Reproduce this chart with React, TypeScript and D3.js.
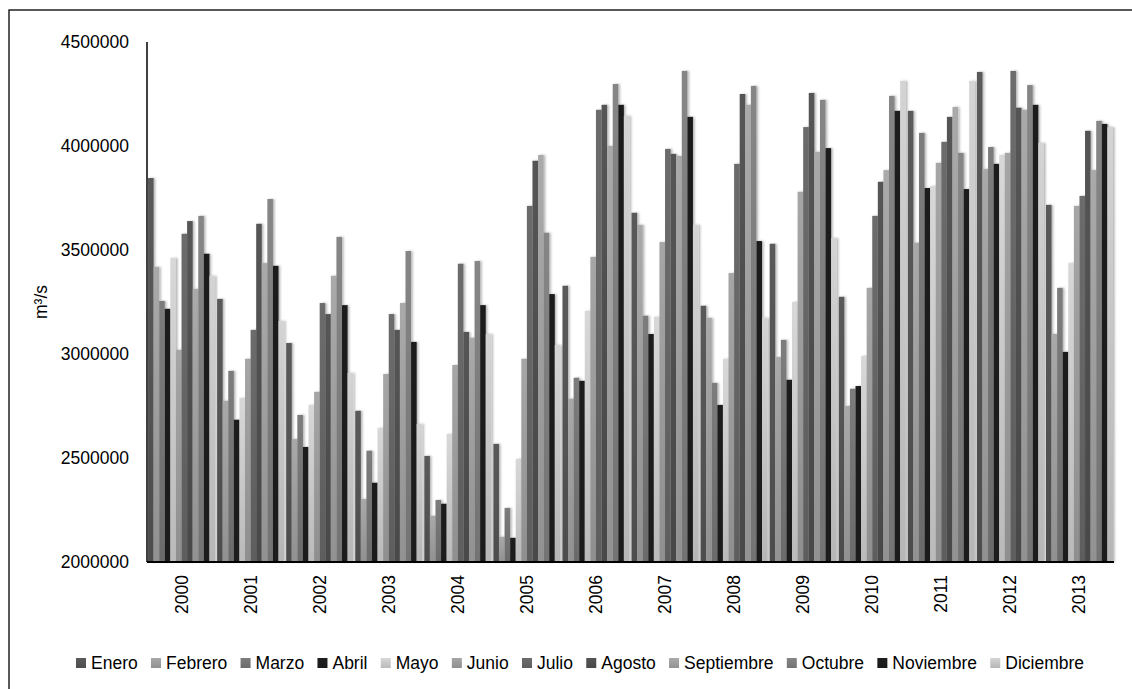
import React from "react";
import * as d3 from "d3";

const years = ["2000","2001","2002","2003","2004","2005","2006","2007","2008","2009","2010","2011","2012","2013"];
const months = ["Enero","Febrero","Marzo","Abril","Mayo","Junio","Julio","Agosto","Septiembre","Octubre","Noviembre","Diciembre"];
const colors = ["#5a5a5a","#a9a9a9","#7c7c7c","#1e1e1e","#d8d8d8","#a6a6a6","#6c6c6c","#555555","#aaaaaa","#868686","#1e1e1e","#d4d4d4"];

const enero = [3846000,3265000,3053000,2727000,2510000,2568000,3328000,3679000,3232000,3530000,3275000,4169000,4356000,3717000];
const febrero = [3419000,2775000,2591000,2303000,2222000,2121000,2785000,3621000,3174000,2985000,2750000,3535000,3889000,3096000];
const marzo = [3255000,2919000,2707000,2535000,2298000,2260000,2886000,3184000,2861000,3068000,2833000,4063000,3995000,3318000];
const abril = [3217000,2684000,2553000,2381000,2280000,2116000,2871000,3096000,2755000,2876000,2846000,3798000,3914000,3010000];
const mayo = [3462000,2788000,2755000,2644000,2616000,2495000,3207000,3179000,2977000,3250000,2990000,3808000,3957000,3437000];
const junio = [3020000,2977000,2818000,2904000,2947000,2977000,3467000,3538000,3389000,3780000,3318000,3919000,3967000,3712000];
const julio = [3578000,3116000,3245000,3192000,3434000,3712000,4174000,3986000,3914000,4091000,3664000,4020000,4361000,3760000];
const agosto = [3639000,3626000,3192000,3116000,3106000,3929000,4198000,3962000,4250000,4255000,3828000,4140000,4184000,4073000];
const septiembre = [3313000,3437000,3376000,3245000,3078000,3957000,4000000,3952000,4198000,3972000,3884000,4188000,4174000,3884000];
const octubre = [3664000,3745000,3563000,3495000,3447000,3583000,4298000,4361000,4289000,4222000,4241000,3967000,4293000,4121000];
const noviembre = [3482000,3424000,3235000,3058000,3235000,3288000,4198000,4140000,3543000,3990000,4169000,3793000,4198000,4106000];
const diciembre = [3376000,3159000,2909000,2664000,3096000,3043000,4145000,3621000,3174000,3558000,4313000,4313000,4015000,4091000];

const series = [enero,febrero,marzo,abril,mayo,junio,julio,agosto,septiembre,octubre,noviembre,diciembre];
const yTicks = [2000000,2500000,3000000,3500000,4000000,4500000];

const W = 1132, H = 689;
const left = 147, right = 1114, top = 42, bottom = 562;
const FONT = "'Liberation Sans', Arial, sans-serif";
const FS = 17.5;

const x0 = d3.scaleBand<string>().domain(years).range([left, right]).paddingInner(0.03).paddingOuter(0.015);
const x1 = d3.scaleBand<string>().domain(months).range([0, x0.bandwidth()]).padding(0);
const y = d3.scaleLinear().domain([2000000, 4500000]).range([bottom, top]);

function darker(c: string, k: number) {
  const col = d3.rgb(c);
  return d3.rgb(col.r * k, col.g * k, col.b * k).formatHex();
}

const charW: Record<string, number> = {E:.667,n:.556,e:.556,r:.333,o:.556,F:.611,b:.556,M:.833,a:.556,z:.5,A:.667,i:.222,l:.222,y:.5,J:.5,u:.556,g:.556,s:.5,t:.278,S:.667,p:.556,m:.833,O:.778,c:.5,N:.722,v:.5,D:.722};
const textW = (s: string) => s.split("").reduce((a, ch) => a + (charW[ch] ?? 0.556), 0) * FS;
const SW = 10, SG = 5, IG = 13.3;
const itemW = months.map(m => SW + SG + textW(m));
const totalW = d3.sum(itemW) + IG * (months.length - 1);
const legendStart = 580 - totalW / 2;
const legendX: number[] = [];
{
  let acc = legendStart;
  itemW.forEach(w => { legendX.push(acc); acc += w + IG; });
}
const legendY = 663;

export default function App() {
  return (
    <svg width={W} height={H} style={{ position: "absolute", left: 0, top: 0, background: "#fff" }} fontFamily={FONT}>
      <defs>
        {colors.map((c, i) => (
          <linearGradient key={i} id={`g${i}`} x1="0" y1="0" x2="0" y2="1">
            <stop offset="0" stopColor={c} />
            <stop offset="1" stopColor={darker(c, 0.86)} />
          </linearGradient>
        ))}
        <filter id="sh" x="-50%" y="-5%" width="220%" height="110%">
          <feDropShadow dx="1.6" dy="0" stdDeviation="1.2" floodColor="#000" floodOpacity="0.3" />
        </filter>
      </defs>
      <rect x={9} y={10} width={W + 20} height={H + 20} fill="#fff" stroke="#000" strokeWidth={1.3} />

      <g>
        {years.map((yr, yi) => (
          <g key={yr} transform={`translate(${x0(yr)},0)`}>
            {series.map((s, mi) => {
              const v = s[yi];
              return (
                <rect key={mi} x={x1(months[mi])} y={y(v)} width={x1.bandwidth()} height={y(2000000) - y(v)}
                  fill={`url(#g${mi})`} filter="url(#sh)" />
              );
            })}
          </g>
        ))}
      </g>

      <line x1={left} x2={left} y1={top} y2={bottom} stroke="#000" strokeWidth={1.5} />
      <line x1={left} x2={right} y1={bottom} y2={bottom} stroke="#000" strokeWidth={2} />

      {yTicks.map(t => (
        <text key={t} x={129} y={y(t)} textAnchor="end" dominantBaseline="central" fontSize={FS} fill="#000">{t}</text>
      ))}
      <text transform={`translate(41,${(top + bottom) / 2}) rotate(-90)`} textAnchor="middle" dominantBaseline="central" fontSize={FS} fill="#000">m³/s</text>

      {years.map(yr => (
        <text key={yr} transform={`translate(${(x0(yr) as number) + x0.bandwidth() / 2},575) rotate(-90)`} textAnchor="end" dominantBaseline="central" fontSize={FS} fill="#000">{yr}</text>
      ))}

      {months.map((m, i) => (
        <g key={m} transform={`translate(${legendX[i]},${legendY})`}>
          <rect x={0} y={-5} width={SW} height={SW} fill={`url(#g${i})`} />
          <text x={SW + SG} y={0} dominantBaseline="central" fontSize={FS} fill="#000">{m}</text>
        </g>
      ))}
    </svg>
  );
}
